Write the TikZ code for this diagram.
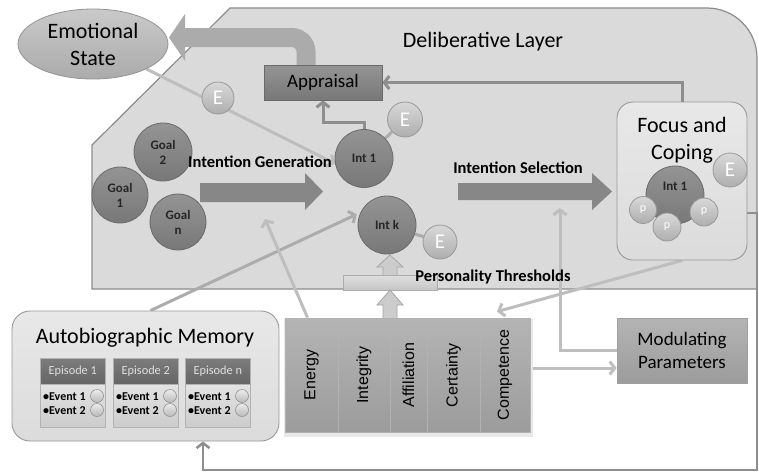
\documentclass[tikz,border=0pt]{standalone}
\usepackage{fontspec}
\setmainfont{Carlito}
\newfontfamily\arialf{Liberation Sans}
\usetikzlibrary{arrows.meta,shapes.geometric,calc}
\pgfdeclarelayer{back}
\pgfdeclarelayer{lines}
\pgfsetlayers{back,lines,main}
\definecolor{cLayer}{HTML}{DADADA}
\definecolor{cLayerD}{HTML}{8C8C8C}
\definecolor{cBallT}{HTML}{949494}
\definecolor{cBallB}{HTML}{787878}
\definecolor{cBallD}{HTML}{6A6A6A}
\definecolor{cLightT}{HTML}{D8D8D8}
\definecolor{cLightB}{HTML}{AEAEAE}
\definecolor{cLineD}{HTML}{8E8E8E}
\definecolor{cLineL}{HTML}{BEBEBE}
\definecolor{cArrow}{HTML}{878787}
\definecolor{cEmoArr}{HTML}{ABABAB}
\definecolor{cBoxT}{HTML}{B4B4B4}
\definecolor{cBoxB}{HTML}{9C9C9C}
\definecolor{cHeadT}{HTML}{7C7C7C}
\definecolor{cHeadB}{HTML}{656565}
\tikzset{
  bigtxt/.style={font=\fontsize{22}{27}\selectfont},
  midtxt/.style={font=\fontsize{19}{23}\selectfont},
  boldtxt/.style={font=\bfseries\fontsize{16.5}{19}\selectfont},
  ball/.style={circle, minimum size=#1, inner sep=0pt, draw=cBallD, line width=0.8pt,
    top color=cBallT, bottom color=cBallB, align=center,
    font=\bfseries\fontsize{13}{15}\selectfont, text=black!85},
  ebub/.style={circle, minimum size=#1, inner sep=0pt, draw=gray!80, line width=0.8pt,
    top color=cLightT, bottom color=cLightB, text=white, font=\fontsize{21}{22}\selectfont},
  pbub/.style={circle, minimum size=#1, inner sep=0pt, draw=gray!80, line width=0.8pt,
    top color=cLightT, bottom color=cLightB, text=white, font=\fontsize{12}{13}\selectfont},
  minib/.style={circle, minimum size=13pt, inner sep=0pt, draw=gray!85, line width=0.6pt,
    top color=gray!15, bottom color=gray!55},
  darkbox/.style={rectangle, draw=cBallD, line width=0.8pt, top color=cBallT, bottom color=cBallB},
  midbox/.style={rectangle, draw=gray!75, line width=0.8pt, top color=cBoxT, bottom color=cBoxB},
  motiv/.style={rectangle, draw=gray!60, line width=0.8pt, top color=cBoxT, bottom color=cBoxB,
    minimum height=114pt, inner sep=0pt},
  mottxt/.style={rotate=90, font=\arialf\fontsize{16}{19}\selectfont},
  softbox/.style={rectangle, rounded corners=#1, draw=gray!80, line width=0.9pt,
    top color=gray!18, bottom color=gray!28},
  conn/.style={draw=#1, line width=3pt, -{Straight Barb[length=5pt,width=13pt]}},
  plain/.style={draw=#1, line width=3pt},
  blockup/.style={fill=gray!40, draw=gray!70, line width=0.8pt},
  ephead/.style={rectangle, draw=gray!60, line width=0.6pt, top color=cHeadT, bottom color=cHeadB,
    text=gray!25, font=\fontsize{12.3}{14}\selectfont, inner sep=0pt},
  epbody/.style={rectangle, draw=gray!60, line width=0.6pt, top color=gray!22, bottom color=gray!40, inner sep=0pt},
  evtxt/.style={font=\bfseries\fontsize{12}{14}\selectfont, inner sep=0pt}
}
\begin{document}
\begin{tikzpicture}[x=1pt,y=-1pt]
\useasboundingbox (0,0) rectangle (759,472);
\begin{pgfonlayer}{back}
\fill[white] (0,0) rectangle (759,472);
\draw[fill=cLayer, draw=cLayerD, line width=1.2pt] (92,289) -- (92,145) -- (230,8) -- (707,8)
  arc[start angle=-90, end angle=0, radius=50] -- (757,289) -- cycle;
\end{pgfonlayer}

% titles
\node[bigtxt] (dl) at (483,42) {Deliberative Layer};

% emotional state and appraisal
\node[ellipse, minimum width=150pt, minimum height=70pt, inner sep=0pt, draw=gray!85, line width=0.8pt,
  top color=gray!42, bottom color=gray!66, bigtxt, align=center] (emo) at (93,44) {Emotional\\State};
\node[darkbox, minimum width=118pt, minimum height=35pt, midtxt] (appr) at (323,82.5) {Appraisal};
\node[ebub=32pt] (eemo) at (218,98) {E};

% goals and intentions
\node[ball=58pt] (g2) at (163,152) {Goal\\2};
\node[ball=56pt] (g1) at (120,195) {Goal\\1};
\node[ball=56pt] (gn) at (178,222) {Goal\\n};
\node[ball=58pt] (int1) at (364,158.5) {Int 1};
\node[ebub=35pt] (e1) at (405,119.5) {E};
\node[ball=58pt] (intk) at (387,225) {Int k};
\node[ebub=34pt] (ek) at (440,242) {E};

\node[boldtxt] (igtxt) at (260,162) {Intention Generation};
\node[boldtxt] (istxt) at (518,168) {Intention Selection};

% block arrows
\fill[cArrow] (200,183) -- (305,183) -- (305,173) -- (323,191.5) -- (305,210) -- (305,202) -- (200,202) -- cycle;
\fill[cArrow] (458,183) -- (592,183) -- (592,173) -- (612,191.5) -- (592,210) -- (592,200) -- (458,200) -- cycle;
\coordinate (igbot) at (265,219);
\coordinate (isbot) at (560,208);

% focus and coping
\node[softbox=16pt, minimum width=130pt, minimum height=158pt] (focus) at (682,181) {};
\node[bigtxt, align=center] (fctxt) at (682,140.5) {Focus and\\Coping};
\node[ball=58pt] (fint) at (675,195) {Int 1\\[2pt]};
\node[ebub=34pt] (fe) at (730,170) {E};
\node[pbub=27pt] (p1) at (643,210) {p};
\node[pbub=28pt] (p3) at (704,212) {p};
\node[pbub=28pt] (p2) at (667,227) {p};

% personality thresholds bar and block arrows
\draw[blockup] (383,275) -- (383,267) -- (377,267) -- (390,255) -- (403,267) -- (397,267) -- (397,275);
\node[rectangle, minimum width=94pt, minimum height=15pt, inner sep=0pt, draw=gray!65, line width=0.6pt,
  top color=gray!25, bottom color=gray!45] (ptbar) at (390,282.5) {};
\draw[blockup] (383,318) -- (383,305) -- (377,305) -- (390,290) -- (403,305) -- (397,305) -- (397,318);
\node[boldtxt] (pttxt) at (493,277) {Personality Thresholds};

% motivation boxes
\fill[gray!18] (284,319) rectangle (533,437);
\node[motiv, minimum width=53pt] (energy) at (311.5,375) {};
\node[motiv, minimum width=52pt] (integ) at (364,375) {};
\node[motiv, minimum width=37pt] (affil) at (408.5,375) {};
\node[motiv, minimum width=53pt] (cert) at (453.5,375) {};
\node[motiv, minimum width=50pt] (comp) at (505,375) {};
\node[mottxt] at (energy) {Energy};
\node[mottxt] at (integ) {Integrity};
\node[mottxt] at (affil) {Affiliation};
\node[mottxt] at (cert) {Certainty};
\node[mottxt] at (comp) {Competence};

% modulating parameters
\node[midbox, minimum width=130pt, minimum height=65pt, midtxt, align=center] (modp) at (682,350.5) {Modulating\\Parameters};

% autobiographic memory
\node[softbox=18pt, minimum width=267pt, minimum height=130pt] (autob) at (145.5,376) {};
\node[bigtxt] (abtxt) at (145,338) {Autobiographic Memory};
\foreach \L/\t [count=\i] in {40/1,113/2,185/n} {
  \node[ephead, minimum width=65pt, minimum height=26pt, anchor=north west] (eph\i) at (\L,358) {Episode \t};
  \node[epbody, minimum width=65pt, minimum height=43pt, anchor=north west] (epb\i) at (\L,384) {};
  \node[evtxt, anchor=west] (ev1\i) at (\L+3,397) {\textbullet Event 1};
  \node[evtxt, anchor=west] (ev2\i) at (\L+3,411) {\textbullet Event 2};
  \node[minib] (mb1\i) at (\L+57,396) {};
  \node[minib] (mb2\i) at (\L+57,410) {};
}

\coordinate (y213) at (0,213);
\coordinate (y368) at (0,368);
\coordinate (fbr) at (757,470);

\begin{pgfonlayer}{lines}
% appraisal to emotional state
\draw[line width=19pt, cEmoArr, rounded corners=14pt] (306,66) -- (306,37.5) -- (184,37.5);
\fill[cEmoArr] (185,14) -- (169,37.5) -- (185,61) -- cycle;
\draw[conn=cLineD] (focus.north) |- (appr.east);
\draw[conn=cLineD] (int1.north) -- ++(0,-7) -| (appr.south);
\draw[conn=cLineL] (emo.-25) -- (int1.190);
\draw[plain=gray!65] (int1) -- (e1);
\draw[plain=gray!65] (intk) -- (ek);
\draw[plain=gray!65] (fint) -- (fe);
\draw[conn=gray!65, shorten >=4pt] ($(autob.north)+(5,0)$) -- (intk.155);
\draw[conn=cLineL] ($(energy.north)+(-4,0)$) -- (igbot);
\draw[conn=cLineL] (modp.west) -| (isbot);
\draw[conn=cLineL] (comp.east |- y368) -- (modp.west |- y368);
\draw[conn=cLineL] (focus.south) -- ($(comp.north)+(-8,-6)$);
\draw[conn=cLineD, line width=2.5pt] (focus.east |- y213) -| (fbr) -| ($(autob.south)+(57.5,0)$);
\end{pgfonlayer}
\end{tikzpicture}
\end{document}
